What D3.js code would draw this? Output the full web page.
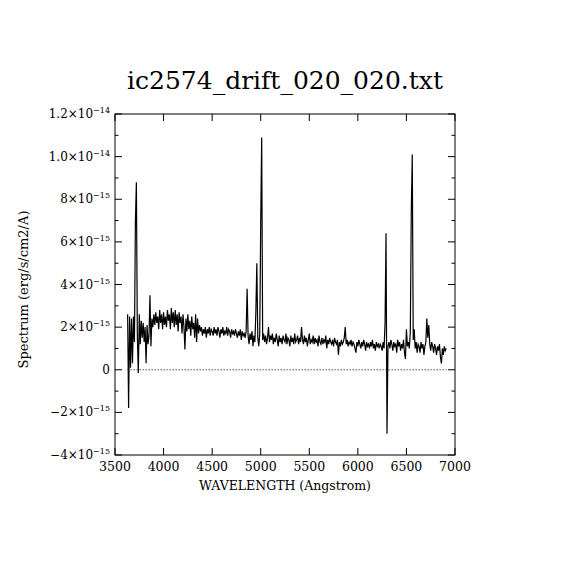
<!DOCTYPE html>
<html>
<head>
<meta charset="utf-8">
<script src="https://cdn.jsdelivr.net/npm/d3@7"></script>
<style>
  body { margin: 0; background: #fff; }
  text { font-family: "DejaVu Serif", "Liberation Serif", serif; fill: #000; }
</style>
</head>
<body>
<svg width="570" height="570"></svg>
<script>
// Spectrum samples: start wavelength and step (Angstrom), flux in units of 1e-15 erg/s/cm2/A
const lambda0 = 3630;
const dLambda = 10;
const flux = [
    2.6, -1.8, 2.5, 0.1, 2.4, 0.3, 2.5, 1.3, 6.9, 8.8,
    1.6, -0.15, 2.6, 1.2, 2.3, 1.5, 2.2, 1.3, 2.0, 0.3,
    2.1, 1.2, 1.6, 3.5, 1.1, 2.4, 2.0, 2.6, 2.1, 2.7,
    2.2, 2.5, 1.9, 2.8, 2.2, 2.6, 1.9, 2.7, 2.1, 2.5,
    2.0, 2.8, 2.3, 2.6, 1.9, 2.9, 2.2, 2.7, 2.0, 2.8,
    2.1, 2.6, 1.8, 2.7, 2.2, 2.5, 1.7, 2.6, 2.0, 0.95,
    2.4, 1.8, 2.6, 1.9, 2.3, 1.6, 2.5, 1.9, 2.2, 1.5,
    2.6, 1.3, 2.4, 1.7, 2.1, 1.8, 2.0, 1.6, 1.9, 1.7,
    2.0, 1.5, 1.9, 1.7, 2.0, 1.6, 1.9, 1.8, 1.6, 2.0,
    1.7, 1.9, 1.6, 2.0, 1.8, 1.5, 1.9, 1.7, 2.0, 1.6,
    1.8, 1.7, 2.0, 1.6, 1.9, 1.8, 1.5, 1.9, 1.7, 1.8,
    1.6, 1.9, 1.7, 1.5, 1.8, 1.6, 1.9, 1.4, 1.8, 1.6,
    1.7, 1.5, 1.8, 3.8, 1.6, 1.2, 1.7, 1.4, 1.8, 1.1,
    1.6, 1.3, 2.7, 5.0, 1.5, 1.1, 1.7, 6.9, 10.9, 1.4,
    1.7, 1.3, 1.6, 1.2, 1.5, 2.0, 1.3, 1.6, 1.4, 1.7,
    1.2, 1.5, 1.3, 1.7, 1.4, 1.1, 1.6, 1.3, 1.5, 1.2,
    1.6, 1.4, 1.3, 1.7, 1.2, 1.5, 1.4, 1.1, 1.6, 1.3,
    1.5, 1.2, 1.7, 1.3, 1.4, 1.6, 1.2, 1.5, 1.3, 2.0,
    1.4, 1.2, 1.6, 1.3, 1.5, 1.1, 1.4, 1.7, 1.2, 1.4,
    1.3, 1.6, 1.2, 1.5, 1.3, 1.4, 1.1, 1.6, 1.3, 1.2,
    1.5, 1.2, 1.4, 1.3, 1.6, 1.0, 1.4, 1.2, 1.5, 1.3,
    1.2, 1.4, 1.1, 1.5, 1.3, 1.2, 1.4, 0.7, 1.3, 1.1,
    1.4, 1.2, 1.3, 1.5, 2.0, 1.2, 1.4, 1.1, 1.3, 1.2,
    1.4, 1.1, 1.3, 1.2, 1.0, 0.8, 1.3, 1.1, 1.4, 1.2,
    1.0, 1.3, 1.1, 1.4, 1.2, 0.9, 1.3, 1.1, 1.2, 1.0,
    1.3, 1.1, 1.4, 1.0, 1.2, 0.9, 1.3, 1.1, 1.2, 1.0,
    1.2, 1.1, 0.9, 1.3, 1.0, 2.2, 6.4, -3.0, 1.1, 1.3,
    1.0, 1.4, 1.2, 0.9, 1.3, 1.1, 1.2, 0.8, 1.4, 1.1,
    1.3, 0.9, 1.2, 1.0, 1.4, 0.8, 0.5, 1.9, 1.1, 1.3,
    1.0, 1.8, 7.4, 10.1, 1.4, 1.9, 1.0, 1.3, 0.8, 1.2,
    1.1, 0.8, 1.3, 1.0, 1.2, 0.7, 1.1, 1.3, 2.4, 1.5,
    2.1, 1.2, 0.9, 1.3, 1.1, 0.8, 1.2, 1.0, 0.7, 1.1,
    0.9, 1.2, 0.6, 0.3, 1.0, 0.7, 1.1, 0.9, 1.0
];

// Axis ticks
const xTicks = [3500, 4000, 4500, 5000, 5500, 6000, 6500, 7000];
const yMajor = [-4, -2, 0, 2, 4, 6, 8, 10, 12];
const yMinor = [-3, -1, 1, 3, 5, 7, 9, 11];

const titleText = "ic2574_drift_020_020.txt";
const xLabelText = "WAVELENGTH (Angstrom)";
const yLabelText = "Spectrum (erg/s/cm2/A)";

const svg = d3.select('svg');
svg.append('rect').attr('width', 570).attr('height', 570).attr('fill', '#fff');

const plotLeft = 115, plotRight = 455, plotTop = 114, plotBottom = 455;
const x = d3.scaleLinear().domain([3500, 7000]).range([plotLeft, plotRight]);
const y = d3.scaleLinear().domain([-4, 12]).range([plotBottom, plotTop]);

const spectrum = flux.map((f, i) => ({ w: lambda0 + i * dLambda, f: f }));
const wMin = d3.min(spectrum, d => d.w), wMax = d3.max(spectrum, d => d.w);

// Zero level, dotted, over the data range
svg.append('line')
    .attr('x1', x(wMin)).attr('x2', x(wMax))
    .attr('y1', y(0)).attr('y2', y(0))
    .attr('stroke', '#000')
    .attr('stroke-width', 1)
    .attr('stroke-dasharray', '1,2');

// Spectrum
svg.append('path')
    .datum(spectrum)
    .attr('fill', 'none')
    .attr('stroke', '#000')
    .attr('stroke-width', 1.2)
    .attr('d', d3.line().x(d => x(d.w)).y(d => y(d.f)));

// Frame
svg.append('rect')
    .attr('x', plotLeft).attr('y', plotTop)
    .attr('width', plotRight - plotLeft).attr('height', plotBottom - plotTop)
    .attr('fill', 'none')
    .attr('stroke', '#000')
    .attr('stroke-width', 1);

// Inward ticks on all four sides
const tickG = svg.append('g').attr('stroke', '#000').attr('stroke-width', 1);
function hTicks(vals, len) {
    vals.forEach(v => {
        tickG.append('line').attr('x1', plotLeft).attr('x2', plotLeft + len).attr('y1', y(v)).attr('y2', y(v));
        tickG.append('line').attr('x1', plotRight).attr('x2', plotRight - len).attr('y1', y(v)).attr('y2', y(v));
    });
}
hTicks(yMajor, 7);
hTicks(yMinor, 3.5);
xTicks.forEach(v => {
    tickG.append('line').attr('x1', x(v)).attr('x2', x(v)).attr('y1', plotBottom).attr('y2', plotBottom - 7);
    tickG.append('line').attr('x1', x(v)).attr('x2', x(v)).attr('y1', plotTop).attr('y2', plotTop + 7);
});

// X tick labels
svg.selectAll('text.xtick')
    .data(xTicks)
    .join('text')
    .attr('class', 'xtick')
    .attr('x', d => x(d))
    .attr('y', plotBottom + 16)
    .attr('text-anchor', 'middle')
    .attr('font-size', 12.5)
    .text(d => d);

// Y tick labels like 8×10^-15
const yLab = svg.selectAll('text.ytick')
    .data(yMajor)
    .join('text')
    .attr('class', 'ytick')
    .attr('x', plotLeft - 5)
    .attr('y', d => y(d) + 4)
    .attr('text-anchor', 'end')
    .attr('font-size', 12);
yLab.each(function (d) {
    const t = d3.select(this);
    if (d === 0) { t.text('0'); return; }
    let mant, exp;
    if (Math.abs(d) >= 10) { mant = (d / 10).toFixed(1); exp = -14; }
    else { mant = String(d); exp = -15; }
    mant = mant.replace('-', '\u2212');
    t.append('tspan').text(mant + '\u00d710');
    t.append('tspan').attr('dy', -5).attr('font-size', 8).text('\u2212' + Math.abs(exp));
});

// Titles
svg.append('text')
    .attr('x', (plotLeft + plotRight) / 2)
    .attr('y', 89)
    .attr('text-anchor', 'middle')
    .attr('font-size', 25)
    .text(titleText);

svg.append('text')
    .attr('x', (plotLeft + plotRight) / 2)
    .attr('y', 490)
    .attr('text-anchor', 'middle')
    .attr('font-size', 12.5)
    .text(xLabelText);

svg.append('text')
    .attr('transform', `translate(28, ${(plotTop + plotBottom) / 2 + 5}) rotate(-90)`)
    .attr('text-anchor', 'middle')
    .attr('font-size', 13)
    .text(yLabelText);
</script>
</body>
</html>
